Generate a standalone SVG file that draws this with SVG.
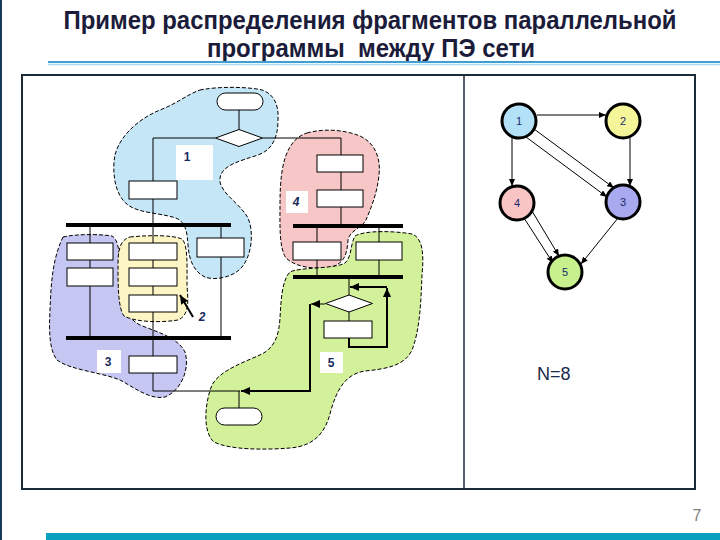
<svg xmlns="http://www.w3.org/2000/svg" width="720" height="540" viewBox="0 0 720 540">
<defs>
<style>
.blob{stroke:#000;stroke-width:1;stroke-dasharray:4,2}
.box{fill:#fff;stroke:#000;stroke-width:1}
.ln{stroke:#000;stroke-width:1;fill:none}
.tk{stroke:#000;stroke-width:2;fill:none}
.bar{stroke:#000;stroke-width:4}
.lbl{font-family:"Liberation Sans",Arial,sans-serif;font-size:12px;font-weight:bold;fill:#1a2a5a;text-anchor:middle}
.node circle{stroke:#000;stroke-width:3}
.node text{font-family:"Liberation Sans",Arial,sans-serif;font-size:11px;fill:#1a2a6a;text-anchor:middle}
.edge{stroke:#000;stroke-width:1;fill:none;marker-end:url(#ga)}
</style>
<marker id="fa" markerUnits="userSpaceOnUse" markerWidth="10" markerHeight="8" refX="9" refY="4" orient="auto"><path d="M0,0 L9,4 L0,8 Z" fill="#000"/></marker>
<marker id="ga" markerUnits="userSpaceOnUse" markerWidth="8" markerHeight="6" refX="7" refY="3" orient="auto"><path d="M0,0 L7,3 L0,6 Z" fill="#000"/></marker>
</defs>
<rect width="720" height="540" fill="#fff"/>
<line x1="1" y1="0" x2="1" y2="540" stroke="#1a3a5a" stroke-width="2"/>
<g id="title" font-family="'Liberation Sans',Arial,sans-serif" font-weight="bold" font-size="25" fill="#1b1b3a" text-anchor="middle">
<text x="370" y="29" textLength="613" lengthAdjust="spacingAndGlyphs">Пример распределения фрагментов параллельной</text>
<text x="371" y="57" textLength="328" lengthAdjust="spacingAndGlyphs">программы&#160; между ПЭ сети</text>
</g>
<line x1="48" y1="62" x2="720" y2="62" stroke="#3f9fcf" stroke-width="2"/>
<line x1="48" y1="64.5" x2="720" y2="64.5" stroke="#a9d9ef" stroke-width="1.5"/>
<rect x="22" y="75" width="673" height="414" fill="none" stroke="#1c2b38" stroke-width="2"/>
<line x1="464" y1="75" x2="464" y2="489" stroke="#1c2b38" stroke-width="1.5"/>

<g id="regions">
<path id="region1" class="blob" fill="#c5e6f7" d="M 200,90 C 220,86 250,87 262,90 C 274,94 279,105 278,120 C 278,138 272,150 258,155 C 240,161 222,165 220,178 C 218,192 240,203 248,218 C 254,232 252,255 242,267 C 234,277 215,281 205,277 C 194,272 189,260 188,245 C 187,232 186,224 178,219 C 165,213 140,214 128,205 C 114,195 112,170 115,155 C 120,135 140,118 160,110 C 178,103 188,94 200,90 Z"/>
<path id="region4" class="blob" fill="#f7c6c6" d="M 307,133 C 325,128 345,130 360,136 C 375,143 381,158 379,175 C 377,195 370,210 366,220 C 362,228 350,230 348,240 C 347,252 346,262 332,267 C 315,270 295,267 286,258 C 279,248 280,225 280,205 C 280,180 282,160 290,147 C 294,140 300,135 307,133 Z"/>
<path id="region3" class="blob" fill="#c6c6f2" d="M 63,237 C 75,234 100,234 112,236 C 119,240 120,255 120,275 C 120,295 121,315 140,325 C 160,333 178,338 185,352 C 190,368 182,390 165,397 C 150,400 135,388 120,380 C 100,372 70,370 57,360 C 49,350 49,330 50,310 C 51,285 52,260 63,237 Z"/>
<path id="region2" class="blob" fill="#fdf5c4" d="M 130,237 C 150,235 172,235 182,239 C 188,245 187,265 187,285 C 188,300 190,315 178,320 C 160,323 135,322 124,316 C 118,308 118,285 118,265 C 118,250 120,240 130,237 Z"/>
<path id="region5" class="blob" fill="#d3f09a" d="M 355,236 C 365,230 395,231 412,234 C 423,238 424,255 422,275 C 421,300 420,330 412,350 C 405,366 385,369 365,371 C 345,374 337,390 331,410 C 326,432 315,446 290,448 C 265,450 230,450 214,442 C 203,433 204,405 212,385 C 220,370 245,362 262,354 C 275,347 279,335 280,318 C 281,300 282,280 290,272 C 300,267 335,269 345,263 C 352,257 350,245 355,236 Z"/>
</g>

<g id="connectors">
<line class="ln" x1="239" y1="110" x2="239" y2="129.5"/>
<polyline class="ln" points="215.5,138 153,138 153,181"/>
<polyline class="ln" points="262.5,138 341,138 341,155"/>
<line class="ln" x1="341" y1="172" x2="341" y2="190"/>
<line class="ln" x1="341" y1="207" x2="341" y2="226"/>
<line class="ln" x1="153" y1="199" x2="153" y2="356"/>
<line class="ln" x1="90" y1="225" x2="90" y2="338"/>
<line class="ln" x1="221" y1="225" x2="221" y2="338"/>
<polyline class="ln" points="153,373 153,391 240,391"/>
<line class="ln" x1="317" y1="226" x2="317" y2="277"/>
<line class="ln" x1="379" y1="226" x2="379" y2="277"/>
<line class="ln" x1="349" y1="277" x2="349" y2="295"/>
<line class="ln" x1="349" y1="312" x2="349" y2="321"/>
<line class="ln" x1="239" y1="391" x2="239" y2="408"/>
<line class="ln" x1="325" y1="304" x2="311" y2="304" marker-end="url(#fa)"/>
<polyline class="tk" points="310,304 310,391 241,391" marker-end="url(#fa)"/>
<polyline class="tk" points="349,338 349,347 387,347 387,288" marker-end="url(#fa)"/>
<line class="tk" x1="387" y1="287" x2="350" y2="287" marker-end="url(#fa)"/>
<line x1="193" y1="317" x2="180" y2="295" stroke="#000" stroke-width="2" marker-end="url(#fa)"/>
<line class="bar" x1="66" y1="225" x2="231" y2="225"/>
<line class="bar" x1="66" y1="338" x2="231" y2="338"/>
<line class="bar" x1="293" y1="226" x2="403" y2="226"/>
<line class="bar" x1="293" y1="277" x2="403" y2="277"/>
</g>

<g id="blocks">
<g id="start"><rect class="box" x="217" y="93" width="46" height="17" rx="8.5"/></g>
<g id="cond1"><polygon class="box" points="239,129.5 262.5,138 239,146.5 215.5,138"/></g>
<g id="b1"><rect class="box" x="129" y="181" width="48" height="18"/></g>
<g id="b4a"><rect class="box" x="317" y="155" width="46" height="17"/></g>
<g id="b4b"><rect class="box" x="317" y="190" width="46" height="17"/></g>
<g id="b3a"><rect class="box" x="67" y="243" width="46" height="17"/></g>
<g id="b3b"><rect class="box" x="67" y="268" width="46" height="18"/></g>
<g id="b2a"><rect class="box" x="129" y="243" width="48" height="17"/></g>
<g id="b2b"><rect class="box" x="129" y="268" width="48" height="18"/></g>
<g id="b2c"><rect class="box" x="129" y="295" width="48" height="17"/></g>
<g id="b1b"><rect class="box" x="197" y="238" width="47" height="19"/></g>
<g id="b3c"><rect class="box" x="129" y="356" width="48" height="17"/></g>
<g id="b4c"><rect class="box" x="293" y="242" width="48" height="18"/></g>
<g id="b5a"><rect class="box" x="356" y="242" width="46" height="18"/></g>
<g id="cond5"><polygon class="box" points="349,295 372.5,303.5 349,312 325.5,303.5"/></g>
<g id="b5b"><rect class="box" x="324" y="321" width="48" height="17"/></g>
<g id="end"><rect class="box" x="216" y="408" width="46" height="17" rx="8.5"/></g>
</g>

<g id="labels">
<g id="lab1"><rect x="176" y="145" width="37" height="35" fill="#fff"/><text class="lbl" x="187" y="161">1</text></g>
<g id="lab4"><rect x="286" y="191" width="22" height="22" fill="#fff"/><text class="lbl" x="296" y="206" font-style="italic">4</text></g>
<g id="lab3"><rect x="97" y="350" width="24" height="23" fill="#fff"/><text class="lbl" x="108" y="366">3</text></g>
<g id="lab5"><rect x="320" y="352" width="23" height="21" fill="#fff"/><text class="lbl" x="331" y="367" font-family="'Liberation Serif',serif">5</text></g>
<g id="lab2"><text class="lbl" x="202" y="321" font-style="italic">2</text></g>
</g>

<g id="graph-edges">
<line class="edge" x1="537" y1="115" x2="606" y2="115"/>
<line class="edge" x1="512" y1="138" x2="512" y2="186"/>
<line class="edge" x1="630" y1="137" x2="630" y2="186"/>
<line class="edge" x1="534" y1="129" x2="614" y2="188"/>
<line class="edge" x1="526" y1="137" x2="607" y2="197"/>
<line class="edge" x1="524" y1="218" x2="553" y2="263"/>
<line class="edge" x1="532" y1="211" x2="559" y2="256"/>
<line class="edge" x1="618" y1="218" x2="581" y2="264"/>
</g>
<g id="gn1" class="node"><circle cx="519" cy="121" r="17" fill="#b3e1f7"/><text x="519" y="125">1</text></g>
<g id="gn2" class="node"><circle cx="623" cy="121" r="17" fill="#f5f59a"/><text x="623" y="125">2</text></g>
<g id="gn4" class="node"><circle cx="517" cy="203" r="17" fill="#f8c4c4"/><text x="517" y="207">4</text></g>
<g id="gn3" class="node"><circle cx="623" cy="202" r="17" fill="#a9a9f0"/><text x="623" y="206">3</text></g>
<g id="gn5" class="node"><circle cx="565" cy="272" r="17" fill="#c8f08c"/><text x="565" y="276">5</text></g>

<text x="537" y="380" font-family="'Liberation Sans',Arial,sans-serif" font-size="18" fill="#1a2a4a">N=8</text>
<text x="697" y="521" font-family="'Liberation Sans',Arial,sans-serif" font-size="16" fill="#808080" text-anchor="middle">7</text>
<rect x="46" y="533" width="674" height="7" fill="#0aa0c0"/>
</svg>
